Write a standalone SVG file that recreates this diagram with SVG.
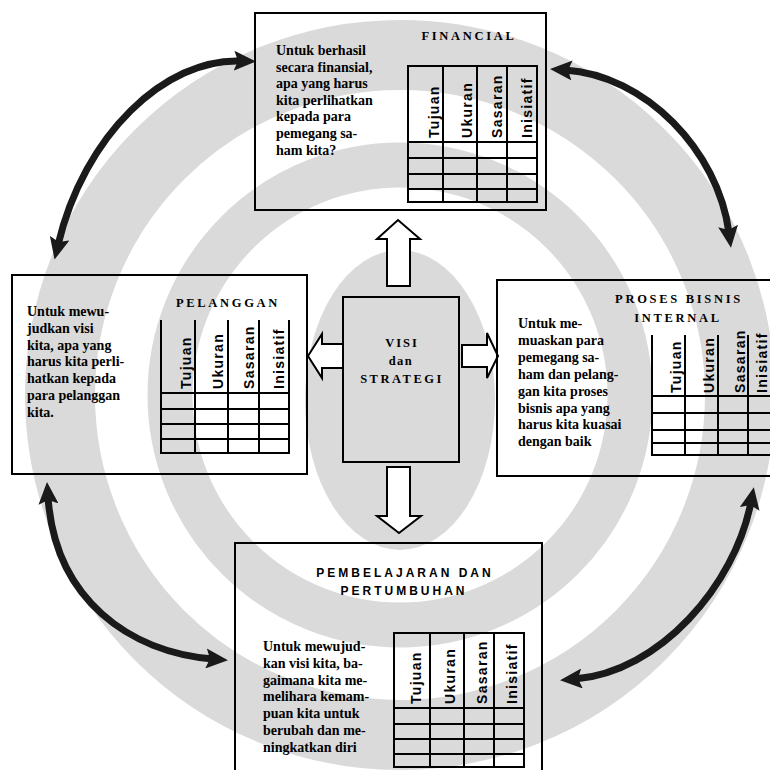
<svg xmlns="http://www.w3.org/2000/svg" width="770" height="770" viewBox="0 0 770 770">
  <style>
    .box { fill: none; stroke: #000; stroke-width: 2; }
    .grid { fill: none; stroke: #000; stroke-width: 2; }
    .body { font-family: "Liberation Serif", "Times New Roman", serif; font-weight: bold; font-size: 14px; fill: #000; }
    .title { font-family: "Liberation Serif", "Times New Roman", serif; font-weight: bold; font-size: 12.5px; letter-spacing: 2.7px; fill: #000; text-anchor: middle; }
    .title-sans { font-family: "Liberation Sans", Arial, sans-serif; font-weight: bold; font-size: 12px; letter-spacing: 3px; fill: #000; text-anchor: middle; }
    .col { font-family: "Liberation Sans", Arial, sans-serif; font-weight: bold; font-size: 14px; letter-spacing: 1.3px; fill: #000; }
    .block { fill: #fff; stroke: #000; stroke-width: 2; stroke-linejoin: miter; }
    .link { fill: none; stroke: #1a1a1a; stroke-width: 7; }
    .band { fill: none; stroke: #dadada; }
  </style>
  <defs>
    <marker id="head" markerUnits="userSpaceOnUse" viewBox="0 0 22 20" markerWidth="22" markerHeight="20" refX="7" refY="10" orient="auto-start-reverse">
      <path d="M0,0 L22,10 L0,20 L4,10 Z" fill="#1a1a1a"/>
    </marker>
  </defs>

  <rect width="770" height="770" fill="#fff"/>

  <!-- background emblem -->
  <g id="emblem">
    <circle class="band" cx="400" cy="395" r="340" stroke-width="70"/>
    <circle class="band" cx="400" cy="395" r="230" stroke-width="45"/>
    <ellipse cx="400" cy="400" rx="95" ry="150" fill="#dadada"/>
  </g>

  <!-- connectors -->
  <g id="connectors">
    <path class="link" d="M58,245 C84,135 165,58 241,61" marker-start="url(#head)" marker-end="url(#head)"/>
    <path class="link" d="M565,70 C645,75 718,150 729,233" marker-start="url(#head)" marker-end="url(#head)"/>
    <path class="link" d="M48,497 C55,600 130,652 213,659" marker-start="url(#head)" marker-end="url(#head)"/>
    <path class="link" d="M751,502 C735,585 660,672 575,679" marker-start="url(#head)" marker-end="url(#head)"/>
    <!-- block arrows from the centre -->
    <path class="block" d="M387,286 L387,239 L377,239 L398,220 L420,239 L410,239 L410,286 Z"/>
    <path class="block" d="M343,344 L322,344 L322,334 L308,356 L322,378 L322,368 L343,368 Z"/>
    <path class="block" d="M462,345 L487,345 L487,333 L498,356 L487,378 L487,367 L462,367 Z"/>
    <path class="block" d="M387,467 L387,516 L377,516 L399,533 L421,516 L410,516 L410,467 Z"/>
  </g>

  <!-- FINANCIAL -->
  <g id="financial">
    <rect class="box" x="255" y="13" width="291" height="197"/>
    <text class="title" x="469" y="40">FINANCIAL</text>
    <text class="body" x="276" y="55">
      <tspan x="276">Untuk berhasil</tspan>
      <tspan x="276" dy="16.6">secara finansial,</tspan>
      <tspan x="276" dy="16.6">apa yang harus</tspan>
      <tspan x="276" dy="16.6">kita perlihatkan</tspan>
      <tspan x="276" dy="16.6">kepada para</tspan>
      <tspan x="276" dy="16.6">pemegang sa-</tspan>
      <tspan x="276" dy="16.6">ham kita?</tspan>
    </text>
    <path class="grid" d="M408,66 H537 V202 H408 Z M443,66 V202 M477,66 V202 M507,66 V202 M408,142 H537 M408,158 H537 M408,174 H537 M408,189 H537"/>
    <text class="col" transform="translate(439,138) rotate(-90)">Tujuan</text>
    <text class="col" transform="translate(472,138) rotate(-90)">Ukuran</text>
    <text class="col" transform="translate(502,138) rotate(-90)">Sasaran</text>
    <text class="col" transform="translate(532,138) rotate(-90)">Inisiatif</text>
  </g>

  <!-- PELANGGAN -->
  <g id="pelanggan">
    <rect class="box" x="12" y="275" width="295" height="199"/>
    <text class="title" x="228" y="307">PELANGGAN</text>
    <text class="body" x="27" y="316">
      <tspan x="27">Untuk mewu-</tspan>
      <tspan x="27" dy="16.8">judkan visi</tspan>
      <tspan x="27" dy="16.8">kita, apa yang</tspan>
      <tspan x="27" dy="16.8">harus kita perli-</tspan>
      <tspan x="27" dy="16.8">hatkan kepada</tspan>
      <tspan x="27" dy="16.8">para pelanggan</tspan>
      <tspan x="27" dy="16.8">kita.</tspan>
    </text>
    <path class="grid" d="M161,320 V453 H289 V320 M195,320 V453 M228,320 V453 M259,320 V453 M161,393 H289 M161,409 H289 M161,424 H289 M161,439 H289"/>
    <text class="col" transform="translate(191,389) rotate(-90)">Tujuan</text>
    <text class="col" transform="translate(223,389) rotate(-90)">Ukuran</text>
    <text class="col" transform="translate(254,389) rotate(-90)">Sasaran</text>
    <text class="col" transform="translate(284,389) rotate(-90)">Inisiatif</text>
  </g>

  <!-- PROSES BISNIS INTERNAL -->
  <g id="internal">
    <rect class="box" x="497" y="280" width="290" height="196"/>
    <text class="title" x="679" y="303">PROSES BISNIS</text>
    <text class="title" x="678" y="322">INTERNAL</text>
    <text class="body" x="518" y="328">
      <tspan x="518">Untuk me-</tspan>
      <tspan x="518" dy="16.9">muaskan para</tspan>
      <tspan x="518" dy="16.9">pemegang sa-</tspan>
      <tspan x="518" dy="16.9">ham dan pelang-</tspan>
      <tspan x="518" dy="16.9">gan kita proses</tspan>
      <tspan x="518" dy="16.9">bisnis apa yang</tspan>
      <tspan x="518" dy="16.9">harus kita kuasai</tspan>
      <tspan x="518" dy="16.9">dengan baik</tspan>
    </text>
    <path class="grid" d="M652,335 V455 H790 M685,335 V455 M718,335 V455 M748,335 V455 M652,396 H790 M652,413 H790 M652,430 H790 M652,443 H790"/>
    <text class="col" transform="translate(681,393) rotate(-90)">Tujuan</text>
    <text class="col" transform="translate(714,393) rotate(-90)">Ukuran</text>
    <text class="col" transform="translate(745,393) rotate(-90)">Sasaran</text>
    <text class="col" transform="translate(767,393) rotate(-90)">Inisiatif</text>
  </g>

  <!-- PEMBELAJARAN DAN PERTUMBUHAN -->
  <g id="pembelajaran">
    <rect class="box" x="235" y="543" width="307" height="240"/>
    <text class="title-sans" x="405" y="577">PEMBELAJARAN DAN</text>
    <text class="title-sans" x="404" y="595">PERTUMBUHAN</text>
    <text class="body" x="263" y="651">
      <tspan x="263">Untuk mewujud-</tspan>
      <tspan x="263" dy="16.8">kan visi kita, ba-</tspan>
      <tspan x="263" dy="16.8">gaimana kita me-</tspan>
      <tspan x="263" dy="16.8">melihara kemam-</tspan>
      <tspan x="263" dy="16.8">puan kita untuk</tspan>
      <tspan x="263" dy="16.8">berubah dan me-</tspan>
      <tspan x="263" dy="16.8">ningkatkan diri</tspan>
    </text>
    <path class="grid" d="M394,633 H524 V767 H394 Z M430,633 V767 M464,633 V767 M494,633 V767 M394,708 H524 M394,724 H524 M394,739 H524 M394,754 H524"/>
    <text class="col" transform="translate(421,704) rotate(-90)">Tujuan</text>
    <text class="col" transform="translate(455,704) rotate(-90)">Ukuran</text>
    <text class="col" transform="translate(487,704) rotate(-90)">Sasaran</text>
    <text class="col" transform="translate(517,704) rotate(-90)">Inisiatif</text>
  </g>

  <!-- VISI dan STRATEGI -->
  <g id="visi">
    <rect class="box" x="343" y="297" width="116" height="165"/>
    <text class="title" x="402" y="347" style="letter-spacing:2px">VISI</text>
    <text class="title" x="401" y="365" style="letter-spacing:1.5px">dan</text>
    <text class="title" x="402" y="383" style="letter-spacing:2.5px">STRATEGI</text>
  </g>
</svg>
